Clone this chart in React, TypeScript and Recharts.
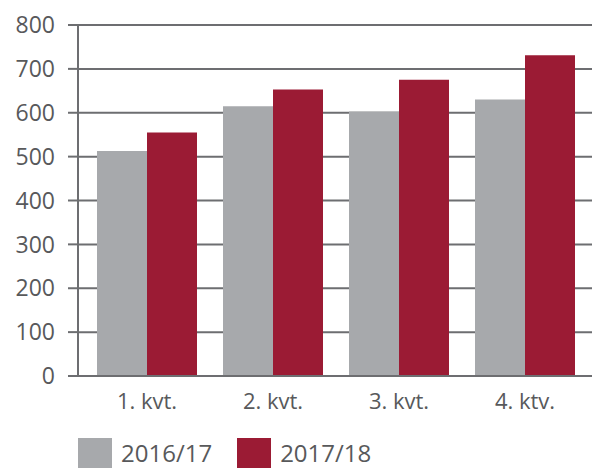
import React from 'react';
import { BarChart, Bar, XAxis, YAxis, CartesianGrid, Legend } from 'recharts';

const quarters = ['1. kvt.', '2. kvt.', '3. kvt.', '4. ktv.'];
const season1617 = [513, 615, 603, 630];
const season1718 = [555, 653, 675, 731];
const yTicks = [0, 100, 200, 300, 400, 500, 600, 700, 800];

const GREY = '#a7a9ac';
const RED = '#9b1b34';
const TEXT = '#58595b';
const LINE = '#6d6e71';
const FONT = '"Open Sans", sans-serif';

const data = quarters.map((q, i) => ({
  name: q,
  a: season1617[i],
  b: season1718[i],
}));

const renderLegend = ({ payload }: any) => (
  <div style={{ display: 'flex', alignItems: 'center', fontFamily: FONT }}>
    {(payload || []).map((entry: any) => (
      <div key={entry.value} style={{ display: 'flex', alignItems: 'center', marginRight: 25 }}>
        <div style={{ width: 34, height: 30, background: entry.color, marginRight: 9 }} />
        <span style={{ fontSize: 24, color: TEXT, lineHeight: '30px' }}>{entry.value}</span>
      </div>
    ))}
  </div>
);

const App: React.FC = () => {
  return (
    <div style={{ position: 'absolute', left: 0, top: 0, width: 592, height: 468, background: '#fff' }}>
      <BarChart
        width={592}
        height={468}
        data={data}
        margin={{ top: 25, right: 0, bottom: 12, left: 0 }}
        barGap={0}
        barCategoryGap={13}
      >
        <CartesianGrid vertical={false} stroke={LINE} strokeWidth={2} />
        <XAxis
          dataKey="name"
          height={50}
          padding={{ left: 6, right: 4 }}
          axisLine={{ stroke: LINE, strokeWidth: 2 }}
          tickLine={false}
          tickSize={0}
          tickMargin={17}
          tick={{ fill: TEXT, fontSize: 22, fontFamily: FONT }}
        />
        <YAxis
          width={78}
          domain={[0, 800]}
          ticks={yTicks}
          interval={0}
          axisLine={{ stroke: LINE, strokeWidth: 2 }}
          tickLine={{ stroke: LINE, strokeWidth: 2 }}
          tickSize={10}
          tickMargin={13}
          tick={{ fill: TEXT, fontSize: 23, fontFamily: FONT }}
        />
        <Legend
          content={renderLegend}
          wrapperStyle={{ left: 78, top: 438, bottom: 'auto', width: 'auto' }}
        />
        <Bar dataKey="a" name="2016/17" fill={GREY} isAnimationActive={false} />
        <Bar dataKey="b" name="2017/18" fill={RED} isAnimationActive={false} />
      </BarChart>
    </div>
  );
};

export default App;
